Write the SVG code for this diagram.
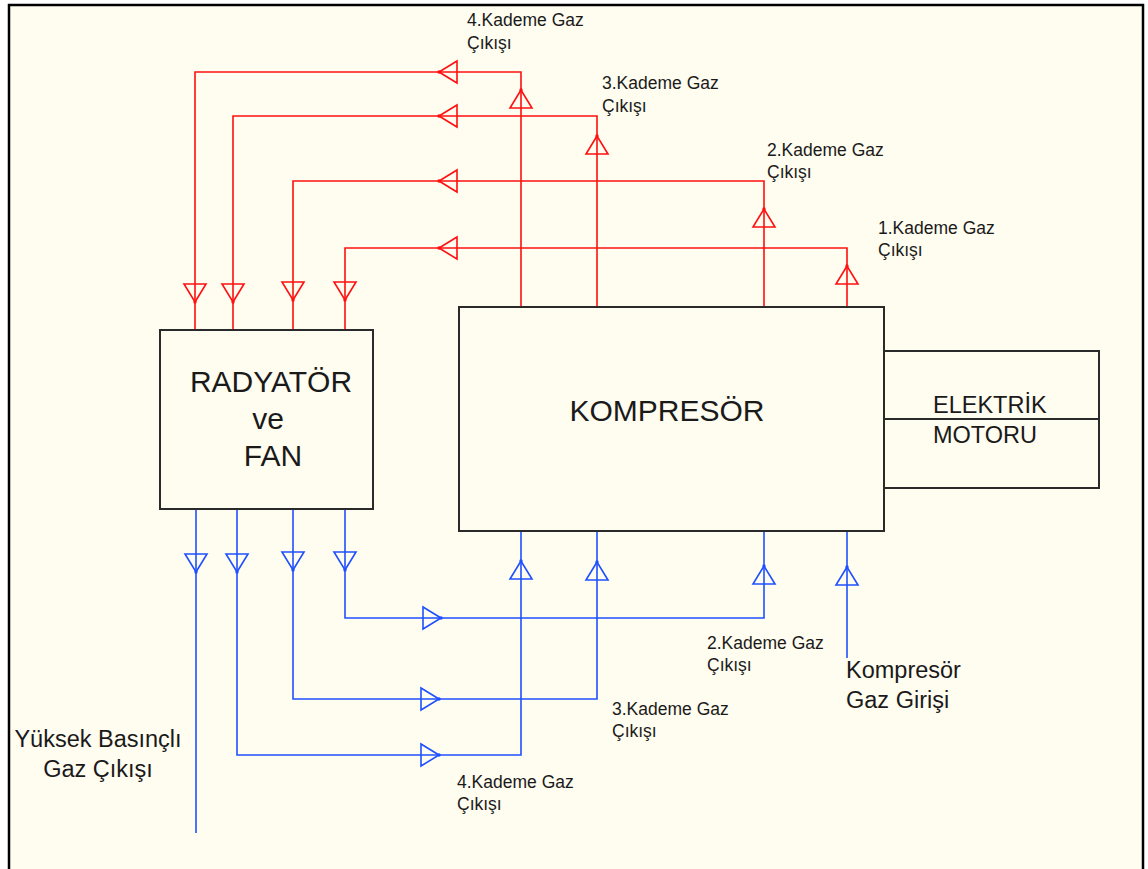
<svg xmlns="http://www.w3.org/2000/svg" width="1148" height="869" viewBox="0 0 1148 869">
<style>
.box{fill:none;stroke:#2a2a2a;stroke-width:2}
.red{fill:none;stroke:#ff1010;stroke-width:1.6}
.blue{fill:none;stroke:#1f50ff;stroke-width:1.6}
.t{font-family:"Liberation Sans",Arial,sans-serif;fill:#1a1a1a}
.big{font-size:30px}
.mid{font-size:23.5px}
.sm{font-size:17.5px}
</style>
<defs>
<g id="ar"><path d="M0,0 L-11,18 L11,18 Z" fill="none" stroke="currentColor" stroke-width="1.6"/><circle cx="0" cy="0" r="1.7" fill="currentColor"/></g>
</defs>
<rect x="0" y="0" width="1148" height="869" fill="#ffffff"/>
<rect x="9" y="5" width="1134" height="864" fill="#fffcf0"/>
<path d="M9,869 V5 H1143 V869" fill="none" stroke="#000" stroke-width="2.5"/>

<g id="connectors">
<g class="red">
<path d="M521,307 V72 H195 V330"/>
<path d="M597,307 V116 H233 V330"/>
<path d="M764,307 V181 H293 V330"/>
<path d="M847,307 V248 H345 V330"/>
</g>
<g color="#ff1010">
<use href="#ar" transform="translate(521,90)"/>
<use href="#ar" transform="translate(597,136)"/>
<use href="#ar" transform="translate(764,209)"/>
<use href="#ar" transform="translate(847,266)"/>
<use href="#ar" transform="translate(439,72) rotate(-90)"/>
<use href="#ar" transform="translate(439,116) rotate(-90)"/>
<use href="#ar" transform="translate(439,181) rotate(-90)"/>
<use href="#ar" transform="translate(439,248) rotate(-90)"/>
<use href="#ar" transform="translate(195,302) rotate(180)"/>
<use href="#ar" transform="translate(233,302) rotate(180)"/>
<use href="#ar" transform="translate(293,300) rotate(180)"/>
<use href="#ar" transform="translate(345,300) rotate(180)"/>
</g>
<g class="blue">
<path d="M196,509 V833"/>
<path d="M237,509 V755 H521 V531"/>
<path d="M293,509 V699 H597 V531"/>
<path d="M345,509 V618 H764 V531"/>
<path d="M847,531 V658"/>
</g>
<g color="#1f50ff">
<use href="#ar" transform="translate(196,572) rotate(180)"/>
<use href="#ar" transform="translate(237,572) rotate(180)"/>
<use href="#ar" transform="translate(293,570) rotate(180)"/>
<use href="#ar" transform="translate(345,570) rotate(180)"/>
<use href="#ar" transform="translate(439,755) rotate(90)"/>
<use href="#ar" transform="translate(439,699) rotate(90)"/>
<use href="#ar" transform="translate(441,618) rotate(90)"/>
<use href="#ar" transform="translate(521,561)"/>
<use href="#ar" transform="translate(597,562)"/>
<use href="#ar" transform="translate(764,566)"/>
<use href="#ar" transform="translate(847,567)"/>
</g>
</g>

<g id="radyator">
<rect class="box" x="160" y="330" width="213" height="179"/>
<text class="t big" x="271" y="392" text-anchor="middle">RADYATÖR</text>
<text class="t big" x="268" y="429" text-anchor="middle">ve</text>
<text class="t big" x="273" y="466" text-anchor="middle">FAN</text>
</g>

<g id="kompresor">
<rect class="box" x="459" y="307" width="425" height="224"/>
<text class="t big" x="667" y="421" text-anchor="middle">KOMPRESÖR</text>
</g>

<g id="motor">
<path class="box" d="M884,351 H1099 V488 H884 M884,419 H1099"/>
<text class="t mid" x="933" y="413">ELEKTRİK</text>
<text class="t mid" x="933" y="443">MOTORU</text>
</g>

<g id="labels">
<text class="t sm" x="467" y="26">4.Kademe Gaz</text>
<text class="t sm" x="467" y="49">Çıkışı</text>
<text class="t sm" x="602" y="89">3.Kademe Gaz</text>
<text class="t sm" x="602" y="112">Çıkışı</text>
<text class="t sm" x="767" y="156">2.Kademe Gaz</text>
<text class="t sm" x="767" y="178">Çıkışı</text>
<text class="t sm" x="878" y="234">1.Kademe Gaz</text>
<text class="t sm" x="878" y="256">Çıkışı</text>
<text class="t sm" x="707" y="649">2.Kademe Gaz</text>
<text class="t sm" x="707" y="671">Çıkışı</text>
<text class="t sm" x="612" y="715">3.Kademe Gaz</text>
<text class="t sm" x="612" y="737">Çıkışı</text>
<text class="t sm" x="457" y="788">4.Kademe Gaz</text>
<text class="t sm" x="457" y="810">Çıkışı</text>
<text class="t mid" x="846" y="678">Kompresör</text>
<text class="t mid" x="846" y="708">Gaz Girişi</text>
<text class="t mid" x="98" y="747" text-anchor="middle">Yüksek Basınçlı</text>
<text class="t mid" x="98" y="777" text-anchor="middle">Gaz Çıkışı</text>
</g>
</svg>
